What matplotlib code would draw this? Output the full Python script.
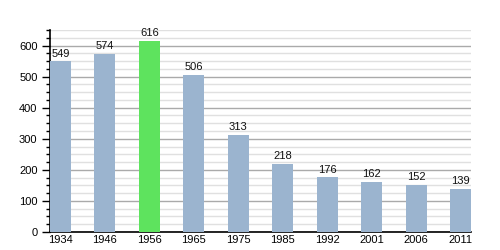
import matplotlib
matplotlib.use("Agg")
import matplotlib.pyplot as plt
from matplotlib.ticker import MultipleLocator

years = ["1934", "1946", "1956", "1965", "1975", "1985", "1992", "2001", "2006", "2011"]
population = [549, 574, 616, 506, 313, 218, 176, 162, 152, 139]
highlight_year = "1956"

plt.rcParams['font.family'] = ['Liberation Sans', 'DejaVu Sans']

fig = plt.figure(figsize=(5, 2.5), dpi=100)
ax = fig.add_axes([0.1, 0.072, 0.842, 0.808])

blue = "#9bb4cf"
green = "#5ee35e"
colors = [green if y == highlight_year else blue for y in years]
x = list(range(len(years)))
w = 0.47
bars = ax.bar(x, population, width=w, color=colors, zorder=3)

for xi, v in zip(x, population):
    ax.annotate(str(v), (xi, v), xytext=(0, 2), textcoords="offset points",
                ha="center", va="bottom", fontsize=8, color="#111111", zorder=4)

ax.set_xlim(-w / 2, len(years) - 1 + w / 2)
ax.set_ylim(0, 650)
ax.set_xticks(x)
ax.set_xticklabels(years, fontsize=8)
ax.yaxis.set_major_locator(MultipleLocator(100))
ax.yaxis.set_minor_locator(MultipleLocator(25))
ax.set_yticks([0, 100, 200, 300, 400, 500, 600])
ax.tick_params(axis="y", which="major", length=6, width=1, labelsize=8, pad=3)
ax.tick_params(axis="y", which="minor", length=3, width=1)
ax.tick_params(axis="x", length=0, pad=2)

ax.grid(axis="y", which="major", color="#aaaaaa", linewidth=1, zorder=1)
ax.grid(axis="y", which="minor", color="#e0e0e0", linewidth=1, zorder=0)

for s in ["top", "right"]:
    ax.spines[s].set_visible(False)
ax.spines["left"].set_linewidth(1.2)
ax.spines["bottom"].set_linewidth(1.2)

fig.savefig("out.png", dpi=100)
